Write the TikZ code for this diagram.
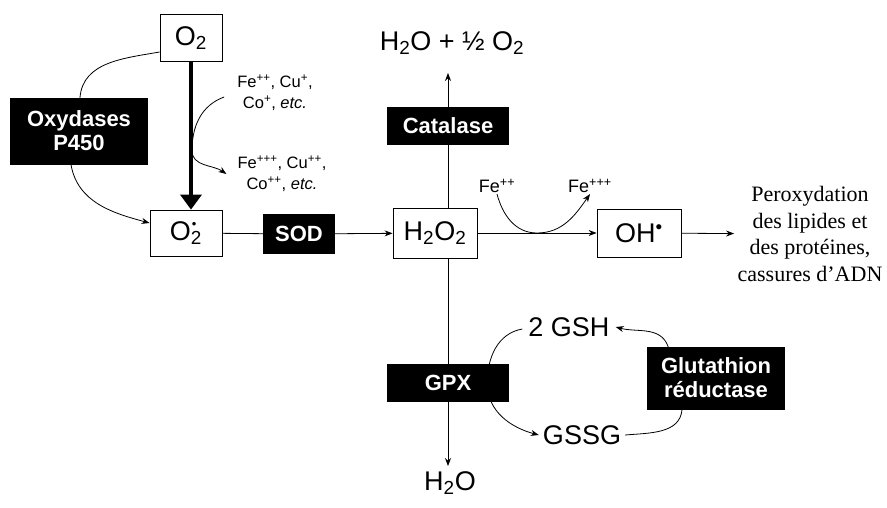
\documentclass[tikz,border=0pt]{standalone}
\usepackage{fontspec}
\setmainfont{Liberation Sans}
\newfontfamily\serifface{Liberation Serif}
\usetikzlibrary{arrows.meta, positioning, backgrounds, calc}

\newcommand{\dn}[1]{\textsubscript{#1}}
\newcommand{\up}[1]{\textsuperscript{#1}}
\newcommand{\rad}{\rlap{\hspace{1pt}\raisebox{12pt}{\fontsize{13}{13}\selectfont\textbullet}}}

\begin{document}
\begin{tikzpicture}[
        x=1pt, y=-1pt,
        mol/.style={rectangle, draw=black, line width=0.8pt, inner sep=0pt,
                    font=\fontsize{27}{30}\selectfont},
        enz/.style={rectangle, fill=black, text=white, align=center, inner sep=0pt,
                    font=\bfseries\fontsize{22}{24}\selectfont},
        spec/.style={font=\fontsize{27}{30}\selectfont, inner sep=2pt},
        ion/.style={font=\fontsize{16.5}{21}\selectfont, align=center, inner sep=1pt},
        link/.style={line width=0.8pt},
        flow/.style={-{Stealth[length=8pt, width=6pt]}, line width=0.8pt},
        bigflow/.style={-{Triangle[length=15pt, width=21pt]}, line width=3.5pt},
    ]
        \useasboundingbox (0,0) rectangle (887,507);

        % boxed species
        \node[mol, minimum width=62pt, minimum height=47pt] (o2) at (191,38) {O\dn{2}};
        \node[mol, minimum width=72pt, minimum height=46pt] (o2s) at (186,233) {O\rad\dn{2}};
        \node[mol, minimum width=84pt, minimum height=50pt] (h2o2) at (435,233) {H\dn{2}O\dn{2}};
        \node[mol, minimum width=84pt, minimum height=48pt] (oh) at (639,233) {OH\up{\textbullet}};

        % enzymes
        \node[enz, minimum width=138pt, minimum height=67pt] (oxy) at (79,131) {Oxydases\\P450};
        \node[enz, minimum width=72pt, minimum height=40pt] (sod) at (299,234) {SOD};
        \node[enz, minimum width=122pt, minimum height=38pt] (cat) at (448,126) {Catalase};
        \node[enz, minimum width=122pt, minimum height=38pt] (gpx) at (448,383) {GPX};
        \node[enz, minimum width=138pt, minimum height=63pt] (glu) at (716,378)
            {Glutathion\\r\'eductase};

        % free species and labels
        \node[spec] (h2oo) at (452,43) {H\dn{2}O + ½ O\dn{2}};
        \node[spec] (h2o) at (450,483) {H\dn{2}O};
        \node[spec] (gsh) at (569,327) {2 GSH};
        \node[spec] (gssg) at (582,435) {GSSG};
        \node[ion] (fe1) at (275,93) {Fe\up{++}, Cu\up{+},\\Co\up{+}, \textit{etc.}};
        \node[ion] (fe2) at (282,174) {Fe\up{+++}, Cu\up{++},\\Co\up{++}, \textit{etc.}};
        \node[ion, font=\fontsize{18}{20}\selectfont] (fe3) at (497,186) {Fe\up{++}};
        \node[ion, font=\fontsize{18}{20}\selectfont] (fe4) at (590,186) {Fe\up{+++}};
        \node[align=center, font=\serifface\fontsize{22}{26.5}\selectfont] (perox) at (810,234)
            {Peroxydation\\des lipides et\\des prot\'eines,\\cassures d’ADN};

        \coordinate (touch) at ($(h2o2.east)!0.5!(oh.west)$);
        \coordinate (bend) at ($(o2.south)!0.6!(o2.south |- o2s.north)$);

        % main chain
        \draw[bigflow] (o2.south) -- (o2.south |- o2s.north);
        \draw[link] (o2s) -- (sod);
        \draw[flow] (sod) -- (h2o2);
        \draw[flow] (h2o2) -- (oh);
        \draw[flow] (oh) -- (perox);
        \draw[link] (h2o2.north -| cat) -- (cat);
        \draw[flow, shorten >=16pt] (cat) -- (cat |- h2oo.south);
        \draw[link] (h2o2.south -| gpx) -- (gpx);
        \draw[flow, shorten >=3pt] (gpx) -- (gpx |- h2o.north);

        % side reactions
        \draw[flow] ([xshift=-12pt, yshift=-4pt]fe1.west) to[out=200, in=90] ([xshift=1pt]bend)
            to[out=-90, in=145] ([xshift=-10pt]fe2.west);
        \draw[flow] (fe3.south) to[out=-75, in=180] (touch) to[out=0, in=-125] (fe4.south);
        \begin{scope}[on background layer]
            \draw[flow] ([yshift=-14pt]o2.west) to[out=190, in=85] ([xshift=1pt]oxy.north)
                -- ([xshift=-8pt]oxy.south) to[out=-80, in=165] ([yshift=10pt]o2s.west);
            \draw[flow] ([xshift=-4pt, yshift=-2pt]gsh.west) to[out=190, in=90] ([xshift=-22pt]gpx.east)
                to[out=-90, in=165] ([xshift=-2pt]gssg.west);
            \draw[flow] ([xshift=2pt]gssg.east) to[out=5, in=-95] ([xshift=-34pt]glu.south)
                -- ([xshift=-48pt]glu.north) to[out=110, in=-15] ([xshift=4pt]gsh.east);
        \end{scope}
    \end{tikzpicture}
\end{document}
